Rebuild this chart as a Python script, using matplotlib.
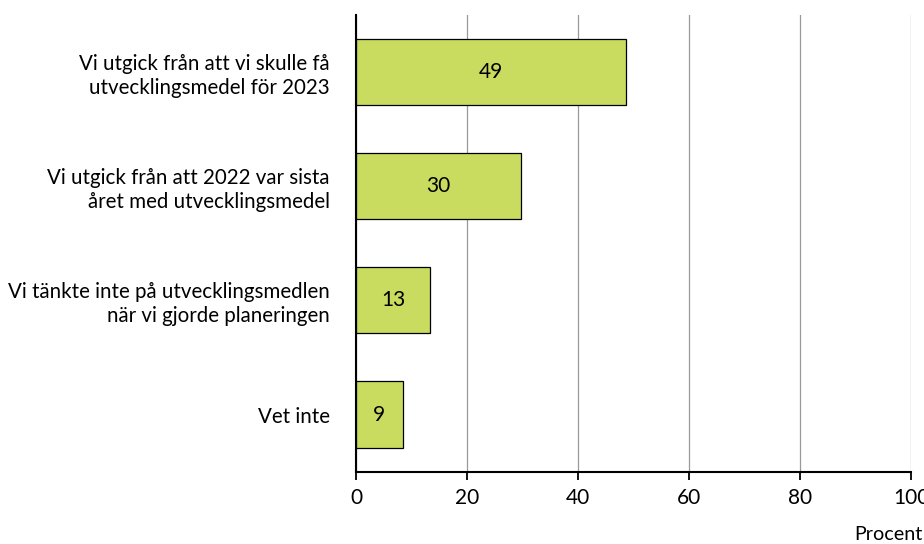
import matplotlib.pyplot as plt

plt.rcParams['font.family'] = ['Lato', 'DejaVu Sans']

# data
categories = ['Vi utgick från att vi skulle få\nutvecklingsmedel för 2023',
              'Vi utgick från att 2022 var sista\nåret med utvecklingsmedel',
              'Vi tänkte inte på utvecklingsmedlen\nnär vi gjorde planeringen',
              'Vet inte']
values = [48.6, 29.8, 13.3, 8.4]
value_labels = ['49', '30', '13', '9']
xticks = [0, 20, 40, 60, 80, 100]

fig = plt.figure(figsize=(9.24, 5.44), dpi=100)
ax = fig.add_axes([0.3853, 0.1329, 0.6006, 0.8401])

ypos = list(range(len(categories)))
bars = ax.barh(ypos, values, height=0.58, color='#cadc5f', edgecolor='black', linewidth=0.9, zorder=3)
for b, lab in zip(bars, value_labels):
    ax.text(b.get_width() / 2, b.get_y() + b.get_height() / 2, lab,
            ha='center', va='center', fontsize=15, zorder=4)

ax.set_ylim(3.5, -0.5)
ax.set_xlim(0, 100)
ax.set_yticks(ypos)
ax.set_yticklabels(categories, fontsize=14.8, linespacing=1.25)
ax.tick_params(axis='y', length=0, pad=19)
ax.set_xticks(xticks)
ax.set_xticklabels([str(t) for t in xticks], fontsize=15)
ax.tick_params(axis='x', length=6, width=1.3, direction='out', pad=6)

ax.grid(axis='x', color='#999999', linewidth=0.9, zorder=0)
for s in ['top', 'right']:
    ax.spines[s].set_visible(False)
for s in ['left', 'bottom']:
    ax.spines[s].set_linewidth(1.5)
    ax.spines[s].set_zorder(5)

fig.text(0.998, 1 - 535 / 544, 'Procent', ha='right', va='center', fontsize=14.2)

plt.savefig('out.png', dpi=100)
